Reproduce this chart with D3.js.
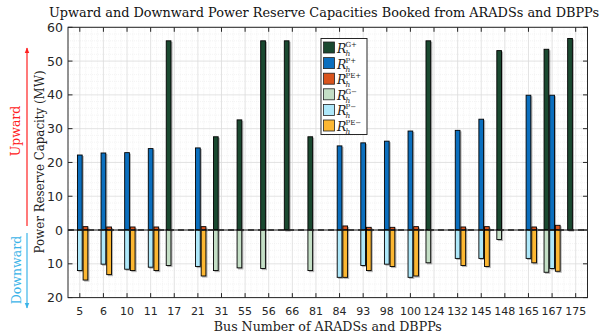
<!DOCTYPE html>
<html><head><meta charset="utf-8">
<script src="https://cdn.jsdelivr.net/npm/d3@7"></script>
<style>body{margin:0;background:#fff}svg{display:block}</style>
</head><body>
<svg id="c" width="602" height="334"></svg>
<script>
const categories = ["5","6","10","11","17","21","31","55","56","66","81","84","93","98","100","124","132","145","148","165","167","175"];
// Upward reserve (MW)
const Gplus  = [0,0,0,0,56,0,27.6,32.6,56,56,27.6,0,0,0,0,56,0,0,53.1,0,53.5,56.7];
const Pplus  = [22.2,22.8,22.9,24.1,0,24.3,0,0,0,0,0,24.9,25.8,26.3,29.3,0,29.5,32.8,0,39.9,39.9,0];
const PEplus = [1.0,0.9,0.9,0.9,0,1.0,0,0,0,0,0,1.2,0.8,0.8,1.0,0,0.9,1.0,0,0.9,1.4,0];
// Downward reserve (MW, magnitude)
const Gminus  = [0,0,0,0,10.5,0,12.0,11.2,11.4,0,12.0,0,0,0,0,9.7,0,0,2.8,0,12.5,0];
const Pminus  = [12.0,10.1,11.6,11.0,0,10.8,0,0,0,0,0,14.0,10.5,10.1,14.0,0,8.4,8.4,0,8.4,11.4,0];
const PEminus = [14.8,13.2,12.0,12.0,0,13.6,0,0,0,0,0,14.0,12.0,10.8,13.6,0,10.5,10.8,0,9.7,12.2,0];
const yTicks = [-20,-10,0,10,20,30,40,50,60];
const yTickLabels = ["20","10","0","10","20","30","40","50","60"];
const legendSup = ["G+","P+","PE+","G\u2212","P\u2212","PE\u2212"];
const colors = ["#1a4930","#0b6fbe","#d9541d","#c4dfc6","#aee8fa","#fcb732"];

const svg = d3.select("#c");
const L = 68, R = 587.5, T = 27.3, B = 297.6;
const x = d3.scaleBand().domain(categories).range([L, R]).paddingInner(0).paddingOuter(0);
const y = d3.scaleLinear().domain([-20, 60]).range([B, T]);
const step = x.bandwidth();
const cx = c => x(c) + step / 2;
const off = step * 0.24, bw = step * 0.2;

// grid: minor
const g = svg.append("g");
d3.range(-20, 61, 2).forEach(v => {
  if (v % 10 !== 0) g.append("line").attr("x1", L).attr("x2", R).attr("y1", y(v)).attr("y2", y(v))
    .attr("stroke", "#ececec").attr("stroke-width", 0.6).attr("stroke-dasharray", "1,1");
});
categories.forEach(c => {
  [-0.25, 0.25].forEach(f => {
    const xx = cx(c) + f * step;
    g.append("line").attr("x1", xx).attr("x2", xx).attr("y1", T).attr("y2", B)
      .attr("stroke", "#ececec").attr("stroke-width", 0.6).attr("stroke-dasharray", "1,1");
  });
  const xx = x(c);
  if (xx > L + 1) g.append("line").attr("x1", xx).attr("x2", xx).attr("y1", T).attr("y2", B)
      .attr("stroke", "#ececec").attr("stroke-width", 0.6).attr("stroke-dasharray", "1,1");
});
// grid: major
yTicks.forEach(v => g.append("line").attr("x1", L).attr("x2", R).attr("y1", y(v)).attr("y2", y(v))
  .attr("stroke", "#dcdcdc").attr("stroke-width", 0.8));
categories.forEach(c => g.append("line").attr("x1", cx(c)).attr("x2", cx(c)).attr("y1", T).attr("y2", B)
  .attr("stroke", "#dcdcdc").attr("stroke-width", 0.8));

// bars
const series = [
  {vals: Gplus, o: -off, sign: 1, col: colors[0]},
  {vals: Pplus, o: 0, sign: 1, col: colors[1]},
  {vals: PEplus, o: off, sign: 1, col: colors[2]},
  {vals: Gminus, o: -off, sign: -1, col: colors[3]},
  {vals: Pminus, o: 0, sign: -1, col: colors[4]},
  {vals: PEminus, o: off, sign: -1, col: colors[5]}
];
const bars = svg.append("g");
series.forEach(s => {
  const data = categories.map((c, i) => ({c, v: s.vals[i] * s.sign})).filter(d => d.v !== 0);
  const rx = d => cx(d.c) + s.o - bw / 2;
  const ry = d => Math.min(y(d.v), y(0));
  const rh = d => Math.abs(y(d.v) - y(0));
  bars.selectAll(null).data(data).enter().append("rect")
    .attr("x", d => rx(d) + 1).attr("y", d => ry(d) + 1).attr("width", bw + 0.6).attr("height", d => rh(d) + 0.6)
    .attr("fill", "#7a7a7a").attr("opacity", 0.55);
  bars.selectAll(null).data(data).enter().append("rect")
    .attr("x", rx).attr("y", ry).attr("width", bw).attr("height", rh)
    .attr("fill", s.col).attr("stroke", "#000").attr("stroke-width", 0.9);
});

// zero line
svg.append("line").attr("x1", L).attr("x2", R).attr("y1", y(0)).attr("y2", y(0))
  .attr("stroke", "#000").attr("stroke-width", 0.9);
svg.append("line").attr("x1", L).attr("x2", R).attr("y1", y(0)).attr("y2", y(0))
  .attr("stroke", "#222").attr("stroke-width", 1.6).attr("stroke-dasharray", "6,4");

// axes
const tickCol = "#262626";
const ax = svg.append("g");
ax.append("rect").attr("x", L).attr("y", T).attr("width", R - L).attr("height", B - T)
  .attr("fill", "none").attr("stroke", tickCol).attr("stroke-width", 1);
const tl = 4.5;
categories.forEach(c => {
  ax.append("line").attr("x1", cx(c)).attr("x2", cx(c)).attr("y1", T).attr("y2", T + tl).attr("stroke", tickCol);
  ax.append("line").attr("x1", cx(c)).attr("x2", cx(c)).attr("y1", B).attr("y2", B - tl).attr("stroke", tickCol);
});
yTicks.forEach(v => {
  ax.append("line").attr("x1", L).attr("x2", L + tl).attr("y1", y(v)).attr("y2", y(v)).attr("stroke", tickCol);
  ax.append("line").attr("x1", R).attr("x2", R - tl).attr("y1", y(v)).attr("y2", y(v)).attr("stroke", tickCol);
});
const sans = "'DejaVu Sans', 'Liberation Sans', sans-serif";
const serif = "'DejaVu Serif', 'Liberation Serif', serif";
yTicks.forEach((v, i) => ax.append("text").attr("x", L - 5).attr("y", y(v)).attr("dy", "0.36em")
  .attr("text-anchor", "end").attr("font-family", sans).attr("font-size", 12.5).attr("fill", tickCol).text(yTickLabels[i]));
categories.forEach(c => ax.append("text").attr("x", cx(c)).attr("y", B + 17)
  .attr("text-anchor", "middle").attr("font-family", sans).attr("font-size", 11).attr("fill", tickCol).text(c));

// titles
svg.append("text").attr("x", 324).attr("y", 17).attr("text-anchor", "middle")
  .attr("font-family", serif).attr("font-size", 12.5).attr("fill", "#111")
  .attr("textLength", 550).attr("lengthAdjust", "spacingAndGlyphs")
  .text("Upward and Downward Power Reserve Capacities Booked from ARADSs and DBPPs");
svg.append("text").attr("x", (L + R) / 2).attr("y", 331).attr("text-anchor", "middle")
  .attr("font-family", serif).attr("font-size", 12.5).attr("fill", "#222")
  .attr("textLength", 228).attr("lengthAdjust", "spacingAndGlyphs")
  .text("Bus Number of ARADSs and DBPPs");
svg.append("text").attr("transform", "translate(44,162) rotate(-90)").attr("text-anchor", "middle")
  .attr("font-family", serif).attr("font-size", 13).attr("fill", "#222")
  .attr("textLength", 183).attr("lengthAdjust", "spacingAndGlyphs")
  .text("Power Reserve Capacity (MW)");

// arrows
const defs = svg.append("defs");
defs.append("marker").attr("id", "ar").attr("viewBox", "0 0 10 10").attr("refX", 9).attr("refY", 5)
  .attr("markerWidth", 5).attr("markerHeight", 5).attr("orient", "auto")
  .append("path").attr("d", "M0,1L10,5L0,9Z").attr("fill", "#ff2020");
defs.append("marker").attr("id", "ab").attr("viewBox", "0 0 10 10").attr("refX", 9).attr("refY", 5)
  .attr("markerWidth", 5).attr("markerHeight", 5).attr("orient", "auto")
  .append("path").attr("d", "M0,1L10,5L0,9Z").attr("fill", "#3bb4e8");
svg.append("line").attr("x1", 27).attr("x2", 27).attr("y1", 226).attr("y2", 48)
  .attr("stroke", "#ff2020").attr("stroke-width", 1.2).attr("marker-end", "url(#ar)");
svg.append("line").attr("x1", 27).attr("x2", 27).attr("y1", 233).attr("y2", 308)
  .attr("stroke", "#3bb4e8").attr("stroke-width", 1.2).attr("marker-end", "url(#ab)");
svg.append("text").attr("transform", "translate(20,131) rotate(-90)").attr("text-anchor", "middle")
  .attr("font-family", serif).attr("font-size", 12.5).attr("fill", "#ff2020").text("Upward");
svg.append("text").attr("transform", "translate(21,270) rotate(-90)").attr("text-anchor", "middle")
  .attr("font-family", serif).attr("font-size", 12.5).attr("fill", "#3bb4e8").text("Downward");

// legend
const lg = svg.append("g");
lg.append("rect").attr("x", 321).attr("y", 38.5).attr("width", 46).attr("height", 96)
  .attr("fill", "#fff").attr("stroke", "#262626").attr("stroke-width", 1);
legendSup.forEach((s, i) => {
  const yy = 42 + i * 15.6;
  lg.append("rect").attr("x", 323.5).attr("y", yy).attr("width", 11).attr("height", 11)
    .attr("fill", colors[i]).attr("stroke", "#222").attr("stroke-width", 0.8);
  lg.append("text").attr("x", 337).attr("y", yy + 11).attr("font-family", serif).attr("fill", "#222")
    .attr("font-size", 12.5).attr("font-style", "italic").text("R");
  lg.append("text").attr("x", 345.5).attr("y", yy + 14).attr("font-family", serif).attr("fill", "#222")
    .attr("font-size", 7.5).attr("font-style", "italic").text("h");
  lg.append("text").attr("x", 345.5).attr("y", yy + 5).attr("font-family", serif).attr("fill", "#222")
    .attr("font-size", 7).text(s);
});
</script>
</body></html>
